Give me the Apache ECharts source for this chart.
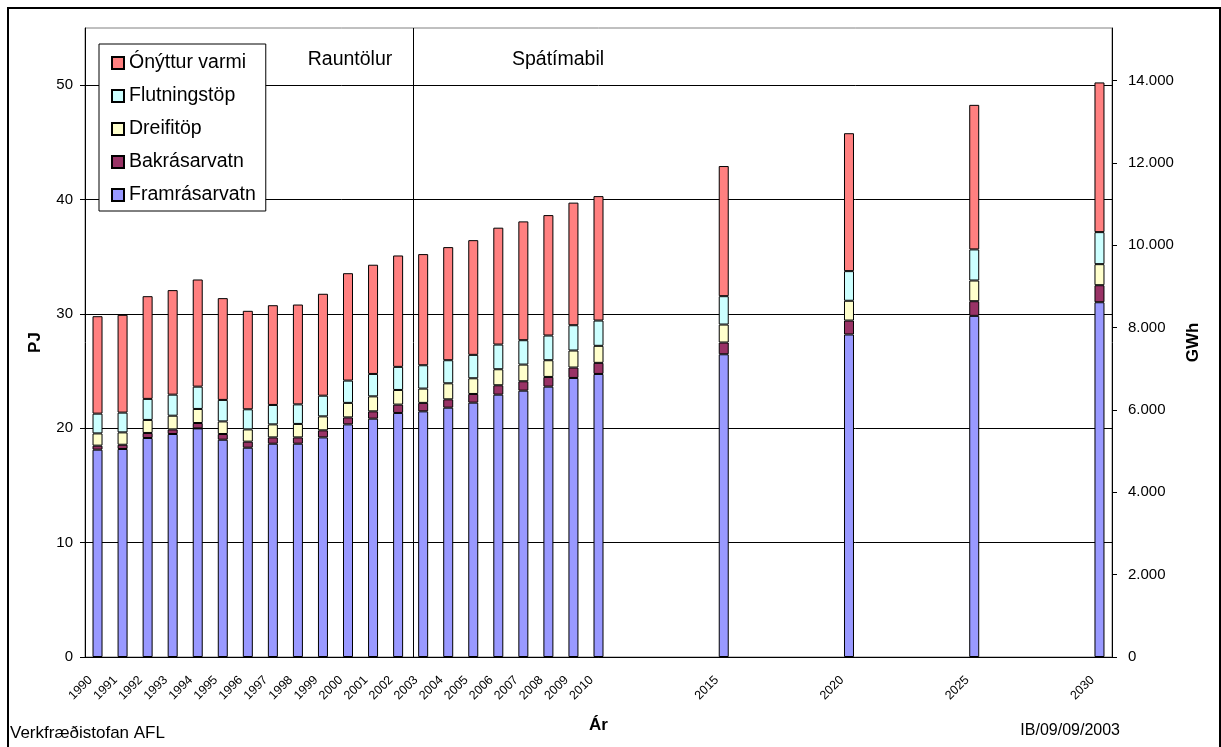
<!DOCTYPE html>
<html>
<head>
<meta charset="utf-8">
<script src="https://cdn.jsdelivr.net/npm/echarts@6/dist/echarts.min.js"></script>
<style>
  html, body { margin: 0; padding: 0; background: #fff; }
  #chart { width: 1221px; height: 747px; }
</style>
</head>
<body>
<div id="chart"></div>
<script>
// Years that carry a bar (actuals 1990-2003, forecast afterwards)
const dataYears = [1990, 1991, 1992, 1993, 1994, 1995, 1996, 1997, 1998, 1999,
                   2000, 2001, 2002, 2003, 2004, 2005, 2006, 2007, 2008, 2009,
                   2010, 2015, 2020, 2025, 2030];

// Energy components, PJ
const framrasarvatn = [18.13, 18.19, 19.15, 19.50, 19.99, 19.00, 18.30, 18.65, 18.65, 19.20,
                       20.34, 20.84, 21.34, 21.48, 21.80, 22.24, 22.94, 23.29, 23.64, 24.40,
                       24.75, 26.47, 28.20, 29.83, 31.02];
const bakrasarvatn  = [0.35, 0.37, 0.44, 0.40, 0.47, 0.50, 0.53, 0.55, 0.55, 0.62,
                       0.61, 0.64, 0.73, 0.74, 0.73, 0.76, 0.82, 0.82, 0.85, 0.91,
                       0.97, 1.03, 1.22, 1.28, 1.49];
const dreifitop     = [1.07, 1.08, 1.14, 1.20, 1.23, 1.10, 1.07, 1.14, 1.18, 1.22,
                       1.27, 1.31, 1.28, 1.25, 1.40, 1.37, 1.40, 1.46, 1.46, 1.49,
                       1.49, 1.57, 1.73, 1.81, 1.84];
const flutningstop  = [1.73, 1.73, 1.84, 1.84, 1.95, 1.88, 1.76, 1.70, 1.71, 1.81,
                       1.95, 1.96, 2.02, 2.04, 2.02, 2.05, 2.16, 2.13, 2.16, 2.21,
                       2.21, 2.48, 2.59, 2.72, 2.80];
const onytturVarmi  = [8.52, 8.55, 8.98, 9.14, 9.37, 8.90, 8.61, 8.72, 8.73, 8.91,
                       9.39, 9.55, 9.74, 9.72, 9.89, 10.03, 10.22, 10.39, 10.53, 10.72,
                       10.88, 11.38, 12.06, 12.64, 13.09];

// Axis ticks
const pjTicks  = [0, 10, 20, 30, 40, 50];
const gwhTicks = [0, 2000, 4000, 6000, 8000, 10000, 12000, 14000];
const PJ_MAX = 55;
const PJ_PER_GWH = 0.0036;

const FONT = '"Liberation Sans", Arial, sans-serif';

// Continuous year axis from first to last year; years without data stay empty
const axisYears = [];
for (let y = dataYears[0]; y <= dataYears[dataYears.length - 1]; y++) axisYears.push(String(y));
const labelled = new Set(dataYears.map(String));

function spread(values) {
  const byYear = {};
  dataYears.forEach((y, i) => { byYear[y] = values[i]; });
  return axisYears.map(y => (y in byYear ? byYear[y] : '-'));
}

const seriesDefs = [
  { name: 'Framrásarvatn', color: '#9999FF', values: framrasarvatn },
  { name: 'Bakrásarvatn',  color: '#993366', values: bakrasarvatn },
  { name: 'Dreifitöp',     color: '#FFFFCC', values: dreifitop },
  { name: 'Flutningstöp',  color: '#CCFFFF', values: flutningstop },
  { name: 'Ónýttur varmi', color: '#FF8080', values: onytturVarmi }
];

function thousands(v) {
  return String(v).replace(/\B(?=(\d{3})+(?!\d))/g, '.');
}

const chart = echarts.init(document.getElementById('chart'), null, { renderer: 'canvas' });

const option = {
  animation: false,
  backgroundColor: '#fff',
  textStyle: { fontFamily: FONT },
  grid: {
    left: 85, right: 109, top: 28, bottom: 90,
    show: true, borderColor: '#808080', borderWidth: 1, backgroundColor: '#fff'
  },
  legend: {
    orient: 'vertical',
    left: 99, top: 44,
    padding: [9, 10, 6, 12],
    itemWidth: 12, itemHeight: 12, itemGap: 13,
    icon: 'rect',
    selectedMode: false,
    backgroundColor: '#fff',
    borderColor: '#000', borderWidth: 1,
    textStyle: { fontFamily: FONT, fontSize: 19.5, color: '#000', lineHeight: 20 },
    data: seriesDefs.map(s => s.name).reverse()
  },
  xAxis: {
    type: 'category',
    data: axisYears,
    boundaryGap: true,
    axisLine: { lineStyle: { color: '#000', width: 1 } },
    axisTick: { interval: 0, length: 5, lineStyle: { color: '#000' } },
    axisLabel: {
      interval: 0, rotate: 45, fontSize: 12.5, color: '#000', fontFamily: FONT,
      margin: 14, padding: [0, 10, 0, 0],
      formatter: v => (labelled.has(v) ? v : '')
    },
    splitLine: { show: false },
    name: 'Ár',
    nameLocation: 'middle',
    nameGap: 60,
    nameTextStyle: { fontFamily: FONT, fontSize: 17, fontWeight: 'bold', color: '#000' }
  },
  yAxis: [
    {
      type: 'value',
      position: 'left',
      min: 0, max: PJ_MAX, interval: 10,
      axisLine: { show: true, lineStyle: { color: '#000', width: 1 } },
      axisTick: { show: true, length: 5, lineStyle: { color: '#000' }, customValues: pjTicks },
      axisLabel: { fontSize: 15, color: '#000', fontFamily: FONT, margin: 12, customValues: pjTicks },
      splitLine: {
        show: true,
        lineStyle: { color: ['#000', '#000', '#000', '#000', '#000', '#000', '#808080'], width: 1 }
      },
      name: 'PJ',
      nameLocation: 'middle',
      nameRotate: 90,
      nameGap: 41,
      nameTextStyle: { fontFamily: FONT, fontSize: 17, fontWeight: 'bold', color: '#000' }
    },
    {
      type: 'value',
      position: 'right',
      min: 0, max: PJ_MAX / PJ_PER_GWH, interval: 2000,
      axisLine: { show: true, lineStyle: { color: '#000', width: 1 } },
      axisTick: { show: true, length: 5, lineStyle: { color: '#000' }, customValues: gwhTicks },
      axisLabel: {
        fontSize: 15, color: '#000', fontFamily: FONT, margin: 16, customValues: gwhTicks,
        formatter: v => thousands(v)
      },
      splitLine: { show: false },
      name: 'GWh',
      nameLocation: 'middle',
      nameRotate: 90,
      nameGap: 72,
      nameTextStyle: { fontFamily: FONT, fontSize: 17, fontWeight: 'bold', color: '#000' }
    }
  ],
  series: seriesDefs.map(s => ({
    name: s.name,
    type: 'bar',
    stack: 'total',
    yAxisIndex: 0,
    barWidth: 10,
    itemStyle: { color: s.color, borderColor: '#000', borderWidth: 1 },
    emphasis: { disabled: true },
    data: spread(s.values)
  })),
  graphic: [
    {
      id: 'frame', type: 'rect', silent: true, z: 100,
      shape: { x: 8, y: 8, width: 1212, height: 760 },
      style: { fill: 'none', stroke: '#000', lineWidth: 2 }
    },
    {
      id: 'actual', type: 'text', x: 350, y: 60, z: 100,
      style: { text: 'Rauntölur', font: '19.5px ' + FONT, fill: '#000', align: 'center', verticalAlign: 'middle' }
    },
    {
      id: 'forecast', type: 'text', x: 558, y: 60, z: 100,
      style: { text: 'Spátímabil', font: '19.5px ' + FONT, fill: '#000', align: 'center', verticalAlign: 'middle' }
    },
    {
      id: 'author', type: 'text', x: 10, y: 733, z: 100,
      style: { text: 'Verkfræðistofan AFL', font: '17px ' + FONT, fill: '#000', align: 'left', verticalAlign: 'middle' }
    },
    {
      id: 'stamp', type: 'text', x: 1120, y: 731, z: 100,
      style: { text: 'IB/09/09/2003', font: '16px ' + FONT, fill: '#000', align: 'right', verticalAlign: 'middle' }
    }
  ]
};

chart.setOption(option);

// Divider between actual figures and the forecast period
const x2002 = chart.convertToPixel({ xAxisIndex: 0 }, '2002');
const x2003 = chart.convertToPixel({ xAxisIndex: 0 }, '2003');
const dividerX = Math.round(x2002 + 0.6 * (x2003 - x2002)) + 0.5;
const yTop = chart.convertToPixel({ yAxisIndex: 0 }, PJ_MAX);
const yBottom = chart.convertToPixel({ yAxisIndex: 0 }, 0);
chart.setOption({
  graphic: [{
    id: 'divider', type: 'line', silent: true, z: 50,
    shape: { x1: dividerX, y1: yTop, x2: dividerX, y2: yBottom },
    style: { stroke: '#000', lineWidth: 1 }
  }]
});
</script>
</body>
</html>
